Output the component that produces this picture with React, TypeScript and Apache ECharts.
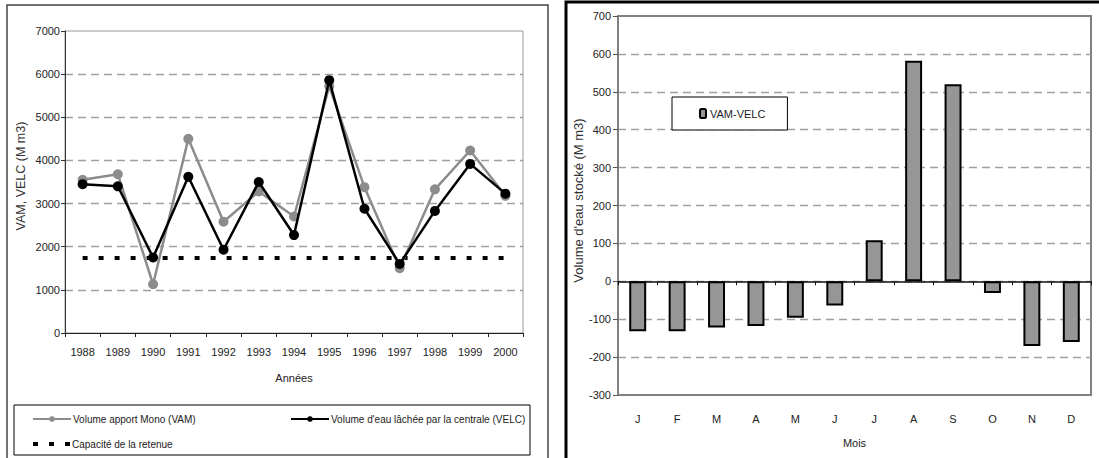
import React, { useEffect, useRef } from "react";
import * as echarts from "echarts";

const years = ["1988", "1989", "1990", "1991", "1992", "1993", "1994", "1995", "1996", "1997", "1998", "1999", "2000"];
const vam = [3550, 3680, 1130, 4500, 2580, 3280, 2700, 5720, 3380, 1500, 3330, 4230, 3180];
const velc = [3450, 3400, 1750, 3620, 1930, 3500, 2270, 5860, 2880, 1600, 2830, 3920, 3230];
const capacite = [1740, 1740, 1740, 1740, 1740, 1740, 1740, 1740, 1740, 1740, 1740, 1740, 1740];

const months = ["J", "F", "M", "A", "M", "J", "J", "A", "S", "O", "N", "D"];
const vamVelc = [-132, -132, -122, -118, -96, -64, 108, 582, 520, -31, -171, -160];

const SANS = "'Liberation Sans', Arial, sans-serif";
const TXT = "#222";
const plain = (v: number) => String(v);

export default function App() {
  const ref = useRef<HTMLDivElement>(null);
  useEffect(() => {
    if (!ref.current) return;
    const chart = echarts.init(ref.current, undefined, { renderer: "svg" });
    const dashed = { show: true, showMinLine: false, showMaxLine: false, lineStyle: { color: "#a0a0a0", width: 1.3, type: [8, 5] } };
    const legendText = { fontFamily: SANS, fontSize: 10, color: TXT, padding: [0, 0, 0, -3] };
    chart.setOption({
      animation: false,
      backgroundColor: "#fff",
      textStyle: { fontFamily: SANS, color: TXT },
      graphic: [
        { type: "rect", shape: { x: 7, y: 5, width: 541, height: 470 }, style: { fill: "none", stroke: "#444", lineWidth: 1.5 }, z: 0 },
        { type: "rect", shape: { x: 566, y: 2, width: 560, height: 480 }, style: { fill: "none", stroke: "#000", lineWidth: 3 }, z: 0 },
        { type: "rect", shape: { x: 14, y: 405, width: 516, height: 50 }, style: { fill: "none", stroke: "#000", lineWidth: 1 }, z: 0 },
      ],
      legend: [
        {
          data: ["Volume apport Mono (VAM)"],
          left: 32, top: 414, padding: 0, itemWidth: 38, itemHeight: 7,
          textStyle: legendText,
        },
        {
          data: ["Volume d'eau lâchée par la centrale (VELC)"],
          left: 290, top: 414, padding: 0, itemWidth: 38, itemHeight: 7,
          textStyle: legendText,
        },
        {
          data: [{ name: "Capacité de la retenue", icon: "path://M0,0h5v4h-5z M16,0h5v4h-5z M32,0h5v4h-5z" }],
          left: 33, top: 439, padding: 0, itemWidth: 37, itemHeight: 4,
          textStyle: { ...legendText, padding: [0, 0, 0, -3] },
        },
        {
          data: ["VAM-VELC"],
          left: 672, top: 97, itemWidth: 6, itemHeight: 9, itemGap: 4,
          padding: [11, 22, 11, 27],
          borderColor: "#000", borderWidth: 1, backgroundColor: "#fff",
          textStyle: { fontFamily: SANS, fontSize: 11, color: TXT, padding: [0, 0, 0, -1] },
        },
      ],
      grid: [
        { left: 65, top: 31, width: 458, height: 302, show: true, borderColor: "#9a9a9a", borderWidth: 1, outerBoundsMode: "none", containLabel: false },
        { left: 618, top: 16, width: 473, height: 379, show: true, borderColor: "#808080", borderWidth: 2, outerBoundsMode: "none", containLabel: false },
      ],
      xAxis: [
        {
          gridIndex: 0, type: "category", data: years, boundaryGap: true,
          axisLine: { lineStyle: { color: "#222", width: 1 } },
          axisTick: { show: true, length: 4, lineStyle: { color: "#222" } },
          axisLabel: { margin: 13, fontSize: 11, color: TXT, fontFamily: SANS, interval: 0 },
          name: "Années", nameLocation: "middle", nameGap: 39,
          nameTextStyle: { fontFamily: SANS, fontSize: 11, color: TXT },
        },
        {
          gridIndex: 1, type: "category", data: months, boundaryGap: true,
          axisLine: { onZero: true, lineStyle: { color: "#111", width: 1.5 } },
          axisTick: { show: true, length: 4, lineStyle: { color: "#111" } },
          axisLabel: { margin: 18, fontSize: 11, color: TXT, fontFamily: SANS, interval: 0 },
          name: "Mois", nameLocation: "middle", nameGap: 42,
          nameTextStyle: { fontFamily: SANS, fontSize: 11, color: TXT },
        },
      ],
      yAxis: [
        {
          gridIndex: 0, type: "value", min: 0, max: 7000, interval: 1000,
          axisLine: { show: true, lineStyle: { color: "#333", width: 1 } },
          axisTick: { show: true, length: 4, lineStyle: { color: "#333" } },
          axisLabel: { margin: 5, fontSize: 11, color: TXT, fontFamily: SANS, formatter: plain },
          splitLine: dashed,
          name: "VAM, VELC (M m3)", nameLocation: "middle", nameGap: 38, nameRotate: 90,
          nameTextStyle: { fontFamily: SANS, fontSize: 12.5, color: "#333", padding: [0, 0, 0, 12] },
        },
        {
          gridIndex: 1, type: "value", min: -300, max: 700, interval: 100,
          axisLine: { show: true, lineStyle: { color: "#808080", width: 2 } },
          axisTick: { show: true, length: 5, lineStyle: { color: "#555" } },
          axisLabel: { margin: 7, fontSize: 11, color: TXT, fontFamily: SANS, formatter: plain },
          splitLine: dashed,
          name: "Volume d'eau stocké (M m3)", nameLocation: "middle", nameGap: 29, nameRotate: 90,
          nameTextStyle: { fontFamily: SANS, fontSize: 13, color: "#333", padding: [0, 0, 0, 10] },
        },
      ],
      series: [
        {
          name: "Capacité de la retenue", type: "line", xAxisIndex: 0, yAxisIndex: 0,
          data: capacite, symbol: "none", z: 2,
          itemStyle: { color: "#000" },
          lineStyle: { color: "#000", width: 4, type: [5, 11] },
        },
        {
          name: "Volume apport Mono (VAM)", type: "line", xAxisIndex: 0, yAxisIndex: 0,
          data: vam, symbol: "circle", symbolSize: 10, z: 3,
          itemStyle: { color: "#8c8c8c" },
          lineStyle: { color: "#8c8c8c", width: 2.5 },
        },
        {
          name: "Volume d'eau lâchée par la centrale (VELC)", type: "line", xAxisIndex: 0, yAxisIndex: 0,
          data: velc, symbol: "circle", symbolSize: 10, z: 4,
          itemStyle: { color: "#000" },
          lineStyle: { color: "#000", width: 2.5 },
        },
        {
          name: "VAM-VELC", type: "bar", xAxisIndex: 1, yAxisIndex: 1,
          data: vamVelc, barWidth: "43%",
          itemStyle: { color: "#969696", borderColor: "#000", borderWidth: 2 },
        },
      ],
    });
    return () => chart.dispose();
  }, []);
  return <div ref={ref} style={{ position: "fixed", left: 0, top: 0, width: 1099, height: 458 }} />;
}
